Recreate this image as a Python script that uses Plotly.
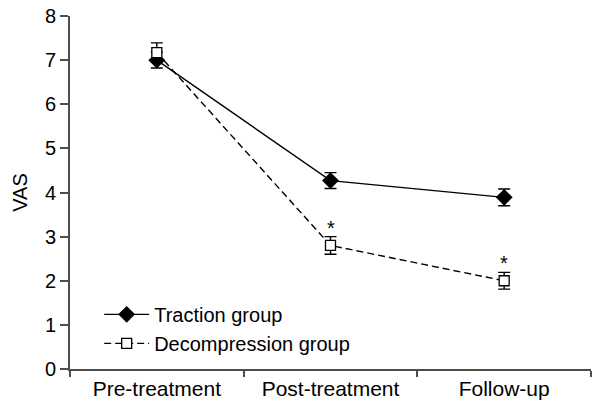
import plotly.graph_objects as go

# Visual analogue scale scores by assessment time
timepoints = ["Pre-treatment", "Post-treatment", "Follow-up"]

traction_mean = [7.0, 4.27, 3.89]
traction_err = [0.18, 0.18, 0.19]

decompression_mean = [7.17, 2.80, 2.00]
decompression_err = [0.22, 0.20, 0.19]

# Time points where decompression differs significantly from traction
significant = [False, True, True]

FONT = "Arial, 'Liberation Sans', sans-serif"
AXIS_COLOR = "#4d4d4d"

fig = go.Figure()

fig.add_trace(go.Scatter(
    x=timepoints, y=traction_mean,
    mode="lines+markers",
    name="Traction group",
    line=dict(color="black", width=1.4),
    marker=dict(symbol="diamond", size=13, color="black"),
    error_y=dict(type="data", array=traction_err, visible=True,
                 color="black", thickness=1.4, width=6),
))

fig.add_trace(go.Scatter(
    x=timepoints, y=decompression_mean,
    mode="lines+markers",
    name="Decompression group",
    line=dict(color="black", width=1.4, dash="7px,4px"),
    marker=dict(symbol="square", size=10, color="white",
                line=dict(color="black", width=1.3)),
    error_y=dict(type="data", array=decompression_err, visible=True,
                 color="black", thickness=1.4, width=6),
))

for t, m, e, sig in zip(timepoints, decompression_mean, decompression_err, significant):
    if sig:
        fig.add_annotation(
            x=t, y=m + e, text="*", showarrow=False,
            yanchor="bottom", yshift=-4,
            font=dict(family=FONT, size=20, color="black"),
        )

fig.update_layout(
    width=592, height=406,
    margin=dict(l=70, r=1, t=16, b=37),
    plot_bgcolor="white", paper_bgcolor="white",
    font=dict(family=FONT, size=20, color="black"),
    showlegend=True,
    legend=dict(
        x=0.056, y=0.21, xanchor="left", yanchor="top",
        bgcolor="rgba(0,0,0,0)", font=dict(size=20),
        tracegroupgap=0, itemwidth=45,
    ),
)

fig.update_xaxes(
    type="category", range=[-0.5, 2.5],
    showline=True, linecolor=AXIS_COLOR, linewidth=2,
    ticks="outside", tickson="boundaries", ticklen=6,
    tickcolor=AXIS_COLOR, tickwidth=2,
    showgrid=False, zeroline=False,
    tickfont=dict(size=21),
)

fig.update_yaxes(
    range=[0, 8], dtick=1,
    showline=True, linecolor=AXIS_COLOR, linewidth=2,
    ticks="outside", ticklen=8, tickcolor=AXIS_COLOR, tickwidth=2,
    showgrid=False, zeroline=False,
    tickfont=dict(size=20),
    title=dict(text="VAS", font=dict(size=20), standoff=12),
)

fig.write_html("out.html")
